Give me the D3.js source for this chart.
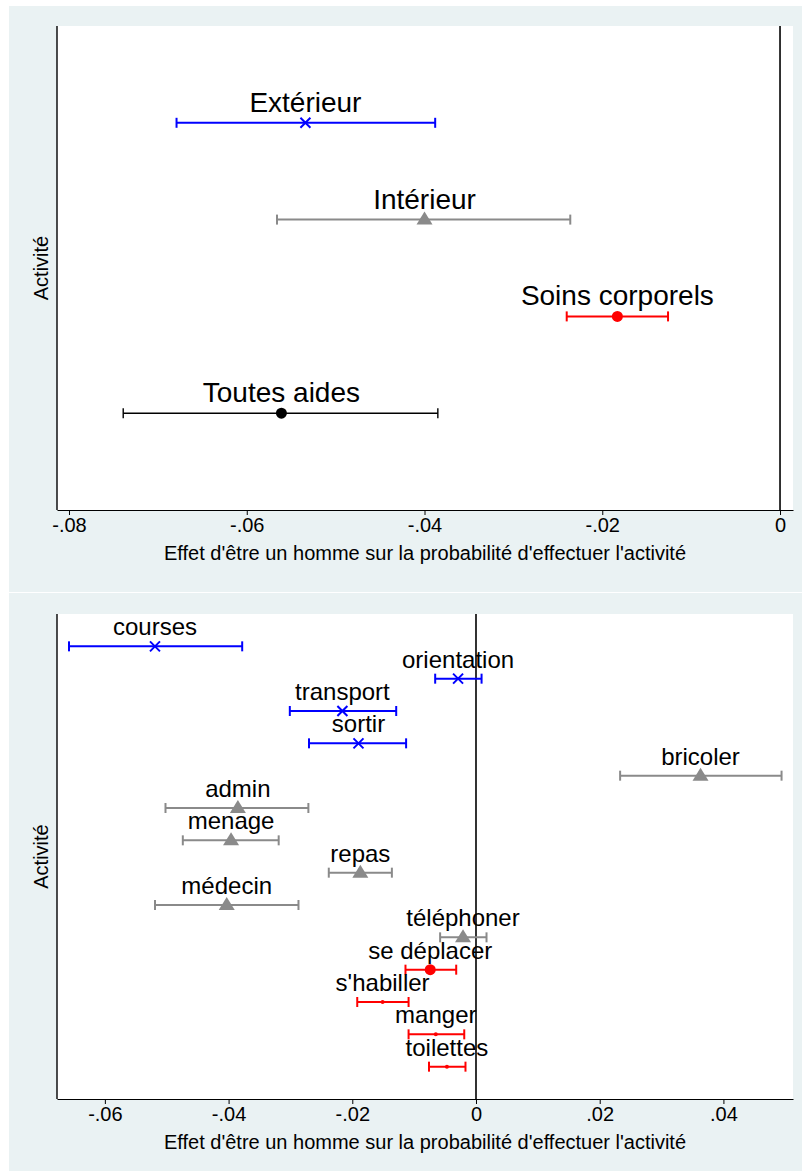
<!DOCTYPE html>
<html>
<head>
<meta charset="utf-8">
<script src="https://cdn.jsdelivr.net/npm/d3@7"></script>
<style>
	body { margin: 0; background: #fff; }
	svg text { font-family: "Liberation Sans", Arial, sans-serif; fill: #000; }
</style>
</head>
<body>
<svg id="chart" width="802" height="1171"></svg>
<script>
// panel 1 : regroupements d'activites
var topLabels = ['Extérieur', 'Intérieur', 'Soins corporels', 'Toutes aides'];
var topGroups = ['ext', 'int', 'soins', 'all'];
var topEst = [-0.0534, -0.0400, -0.0183, -0.0561];
var topLow = [-0.0679, -0.0566, -0.0240, -0.0739];
var topHigh = [-0.0388, -0.0236, -0.0126, -0.0385];
var topTicks = [-0.08, -0.06, -0.04, -0.02, 0];

// panel 2 : activites detaillees
var botLabels = ['courses', 'orientation', 'transport', 'sortir', 'bricoler', 'admin', 'menage',
	'repas', 'médecin', 'téléphoner', 'se déplacer', "s'habiller", 'manger', 'toilettes'];
var botGroups = ['ext', 'ext', 'ext', 'ext', 'int', 'int', 'int',
	'int', 'int', 'int', 'soins', 'small', 'small', 'small'];
var botEst = [-0.0519, -0.0029, -0.0216, -0.0190, 0.0363, -0.0385, -0.0396,
	-0.0187, -0.0403, -0.0021, -0.0074, -0.0151, -0.0065, -0.0047];
var botLow = [-0.0658, -0.0066, -0.0301, -0.0270, 0.0233, -0.0502, -0.0474,
	-0.0238, -0.0519, -0.0058, -0.0114, -0.0192, -0.0109, -0.0076];
var botHigh = [-0.0378, 0.0009, -0.0129, -0.0113, 0.0494, -0.0271, -0.0319,
	-0.0136, -0.0287, 0.0017, -0.0032, -0.0109, -0.0019, -0.0017];
var botTicks = [-0.06, -0.04, -0.02, 0, 0.02, 0.04];

var xTitle = "Effet d'être un homme sur la probabilité d'effectuer l'activité";
var yTitle = 'Activité';

var styles = {
	ext: { color: '#0000ff', marker: 'x', width: 2 },
	int: { color: '#8a8a8a', marker: 'tri', width: 2 },
	soins: { color: '#ff0000', marker: 'dot', r: 5.5, width: 2 },
	small: { color: '#ff0000', marker: 'dot', r: 2, width: 2 },
	all: { color: '#000000', marker: 'dot', r: 5.5, width: 1.4 }
};

var svg = d3.select('#chart');

// format Stata : -.08, 0, .02
function stataFmt(d) {
	if (d === 0) return '0';
	return d.toFixed(2).replace(/^(-?)0\./, '$1.');
}

function drawPanel(opt) {
	var labels = opt.labels;
	var n = labels.length;

	// fond du graphique
	svg.append('rect')
		.attr('x', 9).attr('y', opt.bgTop)
		.attr('width', 793).attr('height', opt.bgBottom - opt.bgTop)
		.attr('fill', '#eaf2f3');

	svg.append('rect')
		.attr('x', opt.left).attr('y', opt.top)
		.attr('width', opt.right - opt.left).attr('height', opt.bottom - opt.top)
		.attr('fill', '#ffffff');

	var x = d3.scaleLinear().domain(opt.xDomain).range([opt.left, opt.right]);
	var y = d3.scaleLinear().domain([0, n + 1]).range([opt.top, opt.bottom]);

	var g = svg.append('g');

	// ligne verticale a zero
	g.append('line')
		.attr('x1', x(0)).attr('x2', x(0))
		.attr('y1', opt.top).attr('y2', opt.bottom)
		.attr('stroke', '#000').attr('stroke-width', 1.6);

	// axe des x
	var axis = d3.axisBottom(x)
		.tickValues(opt.ticks)
		.tickFormat(stataFmt)
		.tickSize(5)
		.tickSizeOuter(0)
		.tickPadding(3);

	var ax = g.append('g')
		.attr('transform', 'translate(0,' + opt.bottom + ')')
		.call(axis);
	ax.select('.domain').attr('stroke', '#000').attr('stroke-width', 1.2);
	ax.selectAll('.tick line').attr('stroke', '#000');
	ax.selectAll('.tick text')
		.style('font-size', '20px')
		.attr('fill', '#000');

	// axe des y (sans graduation)
	g.append('line')
		.attr('x1', opt.left).attr('x2', opt.left)
		.attr('y1', opt.top).attr('y2', opt.bottom)
		.attr('stroke', '#000').attr('stroke-width', 1.4);

	g.append('text')
		.attr('x', (opt.left + opt.right) / 2)
		.attr('y', opt.bottom + 50)
		.attr('text-anchor', 'middle')
		.style('font-size', '20px')
		.text(xTitle);

	g.append('text')
		.attr('transform', 'translate(48,' + (opt.top + opt.bottom) / 2 + ') rotate(-90)')
		.attr('text-anchor', 'middle')
		.style('font-size', '20px')
		.text(yTitle);

	// intervalles de confiance et estimations
	labels.forEach(function(lab, i) {
		var st = styles[opt.groups[i]];
		var yy = y(i + 1);
		var x0 = x(opt.low[i]), x1 = x(opt.high[i]), xe = x(opt.est[i]);
		var cap = 5;

		g.append('line')
			.attr('x1', x0).attr('x2', x1).attr('y1', yy).attr('y2', yy)
			.attr('stroke', st.color).attr('stroke-width', st.width);
		[x0, x1].forEach(function(cx) {
			g.append('line')
				.attr('x1', cx).attr('x2', cx).attr('y1', yy - cap).attr('y2', yy + cap)
				.attr('stroke', st.color).attr('stroke-width', st.width);
		});

		if (st.marker === 'x') {
			g.append('path')
				.attr('d', 'M-5,-5 L5,5 M-5,5 L5,-5')
				.attr('transform', 'translate(' + xe + ',' + yy + ')')
				.attr('stroke', st.color).attr('stroke-width', 2).attr('fill', 'none');
		} else if (st.marker === 'tri') {
			g.append('path')
				.attr('d', 'M0,-8 L8,5 L-8,5 Z')
				.attr('transform', 'translate(' + xe + ',' + yy + ')')
				.attr('fill', st.color);
		} else {
			g.append('circle')
				.attr('cx', xe).attr('cy', yy).attr('r', st.r)
				.attr('fill', st.color);
		}

		g.append('text')
			.attr('x', xe)
			.attr('y', yy - 11)
			.attr('text-anchor', 'middle')
			.style('font-size', opt.labelSize + 'px')
			.text(lab);
	});
}

drawPanel({
	labels: topLabels, groups: topGroups, est: topEst, low: topLow, high: topHigh,
	ticks: topTicks,
	xDomain: [-0.08135, 0.00146],
	left: 57, right: 793, top: 26, bottom: 510,
	bgTop: 6, bgBottom: 592,
	labelSize: 28
});

drawPanel({
	labels: botLabels, groups: botGroups, est: botEst, low: botLow, high: botHigh,
	ticks: botTicks,
	xDomain: [-0.06774, 0.05125],
	left: 57, right: 793, top: 614, bottom: 1099,
	bgTop: 593, bgBottom: 1171,
	labelSize: 24
});
</script>
</body>
</html>
